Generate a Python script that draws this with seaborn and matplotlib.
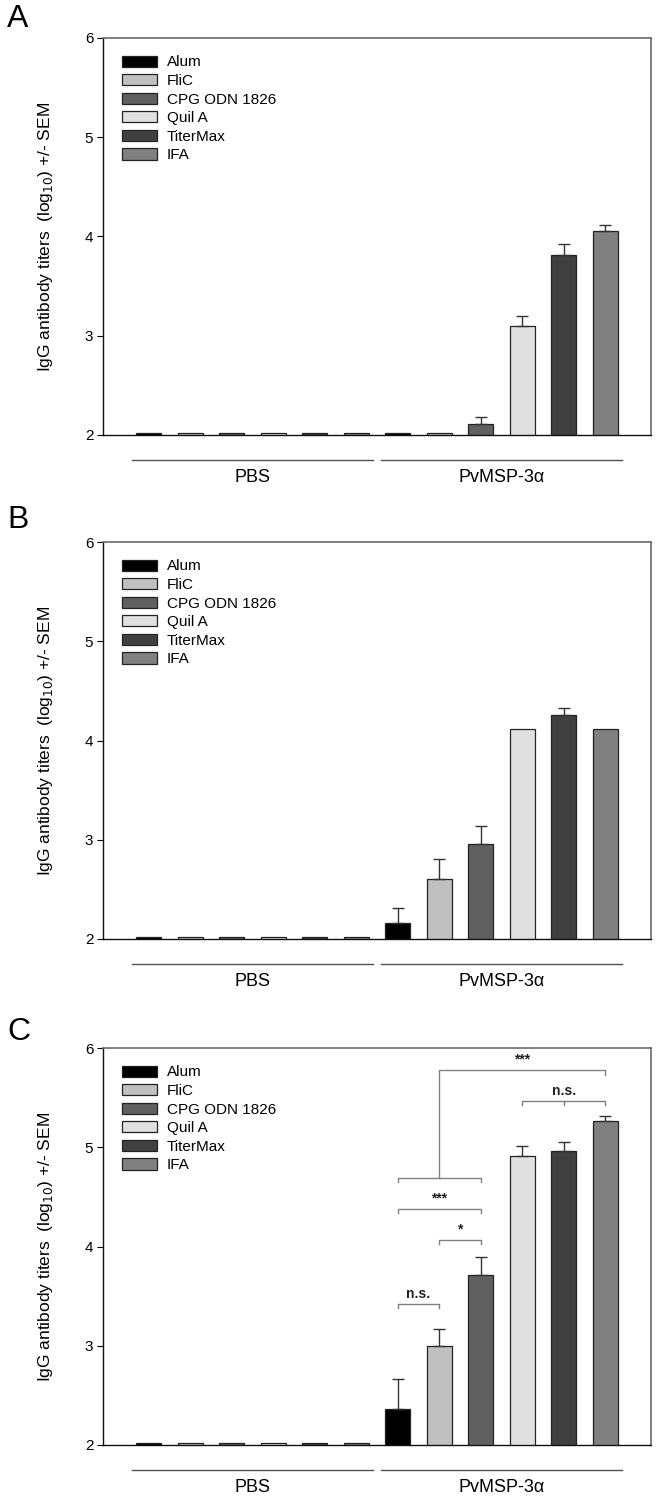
import matplotlib
matplotlib.use("Agg")
import matplotlib.pyplot as plt
import seaborn as sns
import pandas as pd
import numpy as np
from matplotlib.patches import Patch
import matplotlib.transforms as mtransforms

# --- data ---
groups = ["PBS", "PvMSP-3\u03b1"]
adjuvants = ["Alum", "FliC", "CPG ODN 1826", "Quil A", "TiterMax", "IFA"]
bar_colors = ["#000000", "#c0c0c0", "#606060", "#e0e0e0", "#404040", "#808080"]

panel_a_mean = [2.02, 2.02, 2.02, 2.02, 2.02, 2.02, 2.02, 2.02, 2.11, 3.10, 3.81, 4.06]
panel_a_sem = [0, 0, 0, 0, 0, 0, 0, 0, 0.07, 0.10, 0.11, 0.06]

panel_b_mean = [2.02, 2.02, 2.02, 2.02, 2.02, 2.02, 2.16, 2.60, 2.96, 4.12, 4.26, 4.12]
panel_b_sem = [0, 0, 0, 0, 0, 0, 0.15, 0.21, 0.18, 0, 0.07, 0]

panel_c_mean = [2.02, 2.02, 2.02, 2.02, 2.02, 2.02, 2.36, 3.00, 3.71, 4.91, 4.96, 5.26]
panel_c_sem = [0, 0, 0, 0, 0, 0, 0.30, 0.17, 0.18, 0.10, 0.09, 0.05]

# significance brackets for panel C: (left bar, right bar, height, label)
sig_pairs = [(6, 7, 3.42, "n.s."), (7, 8, 4.07, "*"), (6, 8, 4.38, "***")]
sig_ns_top = (9, 10, 11, 5.47, "n.s.")
sig_group = (6, 8, 4.69, 7, 11, 5.78, "***")

panel_letters = ["A", "B", "C"]
yticks = [2, 3, 4, 5, 6]

plt.rcParams["font.family"] = ["Liberation Sans", "DejaVu Sans"]

W, H = 661, 1499
fig = plt.figure(figsize=(W / 100, H / 100), dpi=100)

ax_left, ax_right = 103, 651
ax_tops = [38, 542, 1048]
ax_h = 397
letter_y = [19, 520, 1032]

bar_labels = [f"{g}|{a}" for g in groups for a in adjuvants]
hue_labels = [a for g in groups for a in adjuvants]


def draw_panel(ax, means, sems):
    df = pd.DataFrame({"bar": bar_labels, "value": means, "adjuvant": hue_labels})
    sns.barplot(data=df, x="bar", y="value", hue="adjuvant", order=bar_labels,
                hue_order=adjuvants, palette=bar_colors, dodge=False, width=0.6,
                edgecolor="#222222", linewidth=0.9, legend=False, ax=ax)
    xs = np.arange(len(means))
    sem = np.array(sems)
    m = sem > 0
    ax.errorbar(xs[m], np.array(means)[m], yerr=[np.zeros(m.sum()), sem[m]],
                fmt="none", ecolor="#333333", elinewidth=1.0, capsize=4.5,
                capthick=1.0, zorder=1)

    ax.set_ylim(2, 6)
    ax.set_xlim(-1.1, 12.1)
    ax.set_yticks(yticks)
    ax.set_xticks([])
    ax.set_xlabel("")
    ax.set_ylabel("IgG antibody titers  (log$_{10}$) +/- SEM", fontsize=12.5)
    ax.yaxis.set_label_coords(-0.088, 0.5)
    ax.tick_params(axis="y", direction="out", length=4, width=0.8, labelsize=11, pad=3)
    for s in ["left", "bottom"]:
        ax.spines[s].set_color("#111111")
        ax.spines[s].set_linewidth(1.0)
    for s in ["top", "right"]:
        ax.spines[s].set_color("#6a6a6a")
        ax.spines[s].set_linewidth(1.2)

    # group lines and labels under the axis
    trans = mtransforms.blended_transform_factory(ax.transData, ax.transAxes)
    for (x0, x1, xc, lab) in [(-0.4, 5.4, 2.5, groups[0]), (5.6, 11.4, 8.5, groups[1])]:
        ax.plot([x0, x1], [-0.063, -0.063], transform=trans, color="#555555",
                lw=1.0, clip_on=False)
        ax.text(xc, -0.107, lab, transform=trans, ha="center", va="center",
                fontsize=13)

    handles = [Patch(facecolor=c, edgecolor="#222222", linewidth=0.9) for c in bar_colors]
    ax.legend(handles, adjuvants, loc="upper left", bbox_to_anchor=(0.034, 0.956),
              frameon=False, fontsize=11, handlelength=2.3, handleheight=0.75,
              handletextpad=0.65, labelspacing=0.3, borderpad=0, borderaxespad=0)


def bracket(ax, x0, x1, y, tick=0.04, color="#808080"):
    ax.plot([x0, x0, x1, x1], [y - tick, y, y, y - tick], color=color, lw=1.0)


panels = [(panel_a_mean, panel_a_sem), (panel_b_mean, panel_b_sem),
          (panel_c_mean, panel_c_sem)]
axes = []
for i, (means, sems) in enumerate(panels):
    bottom = (H - (ax_tops[i] + ax_h)) / H
    ax = fig.add_axes([ax_left / W, bottom, (ax_right - ax_left) / W, ax_h / H])
    draw_panel(ax, means, sems)
    fig.text(7 / W, 1 - letter_y[i] / H, panel_letters[i], fontsize=23,
             ha="left", va="center")
    axes.append(ax)

# significance annotations in panel C
axc = axes[2]
for (x0, x1, y, lab) in sig_pairs:
    bracket(axc, x0, x1, y)
    axc.text((x0 + x1) / 2, y + 0.03, lab, ha="center", va="bottom",
             fontsize=10, fontweight="bold", color="#222222")

x0, xm, x1, y, lab = sig_ns_top
bracket(axc, x0, x1, y)
axc.plot([xm, xm], [y, y - 0.04], color="#808080", lw=1.0)
axc.text(xm, y + 0.03, lab, ha="center", va="bottom", fontsize=10,
         fontweight="bold", color="#222222")

g0, g1, gy, stem_x, end_x, top_y, lab = sig_group
bracket(axc, g0, g1, gy)
axc.plot([stem_x, stem_x, end_x, end_x], [gy, top_y, top_y, top_y - 0.05],
         color="#808080", lw=1.0)
axc.text((stem_x + end_x) / 2, top_y + 0.03, lab, ha="center", va="bottom",
         fontsize=10, fontweight="bold", color="#222222")

fig.savefig("out.png", dpi=100, facecolor="white")
